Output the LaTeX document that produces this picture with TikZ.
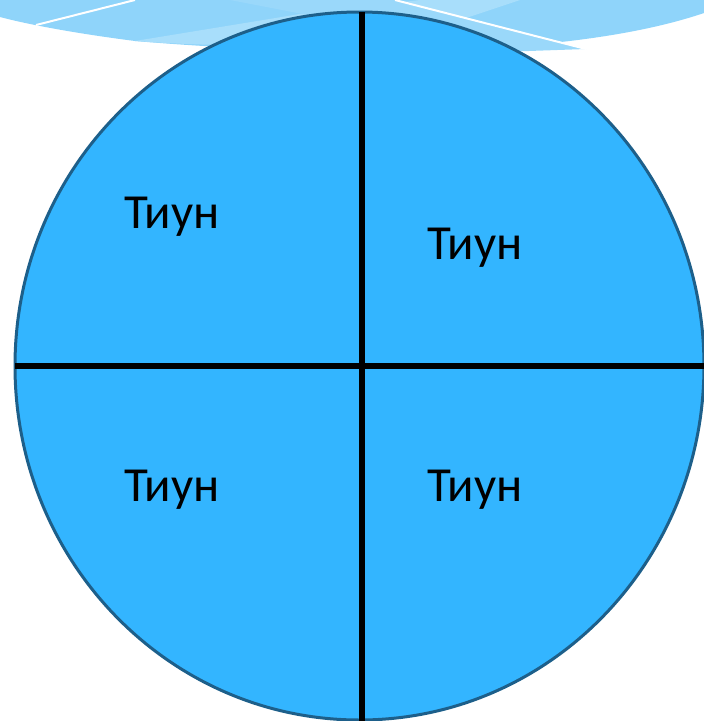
\documentclass[tikz,border=0pt]{standalone}
\usepackage{fontspec}
\setmainfont{Carlito}
\usetikzlibrary{shapes.geometric}
\definecolor{band}{HTML}{8FD4FA}
\definecolor{bandlight}{HTML}{A8DEFB}
\definecolor{bandmid}{HTML}{9AD8FA}
\definecolor{discfill}{HTML}{33B5FF}
\definecolor{discedge}{HTML}{1D5F8A}
\tikzset{
  quarter/.style={font=\fontsize{49}{54}\selectfont, text=black, inner sep=0pt},
  divider/.style={line width=6pt, draw=black},
  whiteline/.style={draw=white, line width=2pt}
}
\begin{document}
\begin{tikzpicture}[x=1pt,y=-1pt]
\useasboundingbox (0,0) rectangle (704,721);
% top decoration
\fill[band] (0,0) -- (704,0) -- (704,13) .. controls (560,62) and (300,55) .. (135,41) .. controls (80,34) and (30,25) .. (0,17) -- cycle;
\fill[bandlight] (135,41) -- (300,14) -- (420,0) -- (520,0) -- (400,40) .. controls (300,48) and (200,46) .. (135,41) -- cycle;
\fill[bandmid] (230,0) -- (395,0) -- (586,49) -- (500,52) -- cycle;
\coordinate (wl1) at (36,25);
\coordinate (wl2) at (135,0);
\coordinate (wr1) at (395,0);
\coordinate (wr2) at (586,49);
\draw[whiteline] (wl1) -- (wl2);
\draw[whiteline] (wr1) -- (wr2);
% disc
\node[draw=discedge, fill=discfill, line width=3pt, ellipse, minimum width=689pt, minimum height=708pt, inner sep=0pt] (disc) at (359.5,366) {};
\coordinate (vt) at (362,12);
\coordinate (vb) at (362,721);
\coordinate (hl) at (15,366);
\coordinate (hr) at (704,366);
\draw[divider] (vt) -- (vb);
\draw[divider] (hl) -- (hr);
% labels
\node[quarter] (tl) at (172,217) {Тиун};
\node[quarter] (tr) at (475,248) {Тиун};
\node[quarter] (bl) at (172,490) {Тиун};
\node[quarter] (br) at (475,490) {Тиун};
\end{tikzpicture}
\end{document}
